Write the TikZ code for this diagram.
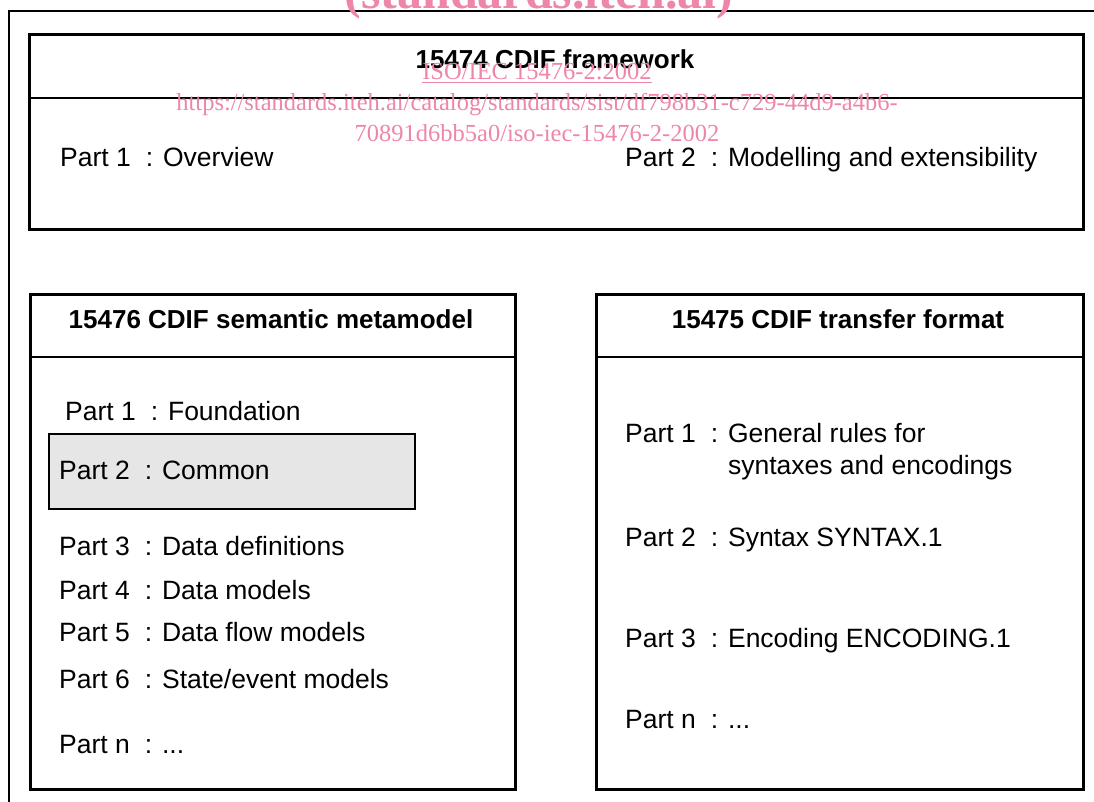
\documentclass[tikz,border=0pt]{standalone}
\usepackage{fontspec}
\setmainfont{Liberation Sans}
\newfontfamily\wmfont{Liberation Serif}
\definecolor{wmpink}{RGB}{238,134,168}
\definecolor{boxgrey}{RGB}{230,230,230}
\newcommand{\plab}[2]{Part #1\hspace{15pt}: #2}
\tikzset{
  frame/.style={draw=black, line width=2.6pt, inner sep=0pt, anchor=north west},
  divider/.style={draw=black, line width=1.8pt},
  outerline/.style={draw=black, line width=1.1pt},
  lab/.style={inner sep=0pt, anchor=base west, font=\fontsize{26.5}{31}\selectfont},
  ttl/.style={inner sep=0pt, anchor=base, font=\fontsize{26}{31}\selectfont\bfseries},
  wm/.style={inner sep=0pt, anchor=base, text=wmpink}
}
\begin{document}
\begin{tikzpicture}[x=1pt,y=-1pt]
\useasboundingbox (0,0) rectangle (1094,802);
% outer frame (partly cut)
\coordinate (otl) at (9,11);
\coordinate (otr) at (1094,11);
\coordinate (obl) at (9,802);
\draw[outerline] (otr) -- (otl) -- (obl);
% watermark
\node[wm, font=\wmfont\fontsize{50}{56}\selectfont\bfseries] (wm1) at (539,9) {(standards.iteh.ai)};
% framework box
\node[frame, minimum width=1054pt, minimum height=195pt] (fw) at (28,33) {};
\coordinate (fwd) at (28,98);
\draw[divider] (fwd) -- (fwd -| fw.east);
\node[ttl] (fwt) at (555,69) {15474 CDIF framework};
\node[lab] (fw1) at (60,167) {\plab{1}{Overview}};
\node[lab] (fw2) at (625,167) {\plab{2}{Modelling and extensibility}};
% semantic metamodel box
\node[frame, minimum width=485pt, minimum height=495pt] (sm) at (29,293) {};
\coordinate (smd) at (29,357);
\draw[divider] (smd) -- (smd -| sm.east);
\node[ttl] (smt) at (271,328) {15476 CDIF semantic metamodel};
\node[draw=black, line width=1.8pt, fill=boxgrey, inner sep=0pt, anchor=north west,
      minimum width=366pt, minimum height=75pt] (common) at (48,433) {};
\node[lab] (sm1) at (65,420) {\plab{1}{Foundation}};
\node[lab] (sm2) at (59,479) {\plab{2}{Common}};
\node[lab] (sm3) at (59,555) {\plab{3}{Data definitions}};
\node[lab] (sm4) at (59,599) {\plab{4}{Data models}};
\node[lab] (sm5) at (59,641) {\plab{5}{Data flow models}};
\node[lab] (sm6) at (59,688) {\plab{6}{State/event models}};
\node[lab] (smn) at (59,753) {\plab{n}{...}};
% transfer format box
\node[frame, minimum width=487pt, minimum height=495pt] (tf) at (595,293) {};
\coordinate (tfd) at (595,357);
\draw[divider] (tfd) -- (tfd -| tf.east);
\node[ttl] (tft) at (838,328) {15475 CDIF transfer format};
\node[lab] (tf1) at (625,442) {\plab{1}{General rules for}};
\node[lab] (tf1b) at (625,474) {\phantom{\plab{1}{}}syntaxes and encodings};
\node[lab] (tf2) at (625,546) {\plab{2}{Syntax SYNTAX.1}};
\node[lab] (tf3) at (625,647) {\plab{3}{Encoding ENCODING.1}};
\node[lab] (tfn) at (625,728) {\plab{n}{...}};
% watermark texts
\node[wm, font=\wmfont\fontsize{24.5}{30}\selectfont] (wm2) at (537,80) {\underline{ISO/IEC 15476-2:2002}};
\node[wm, font=\wmfont\fontsize{24.5}{30}\selectfont] (wm3) at (537,111) {https://standards.iteh.ai/catalog/standards/sist/df798b31-c729-44d9-a4b6-};
\node[wm, font=\wmfont\fontsize{24.5}{30}\selectfont] (wm4) at (537,142) {70891d6bb5a0/iso-iec-15476-2-2002};
\end{tikzpicture}
\end{document}
